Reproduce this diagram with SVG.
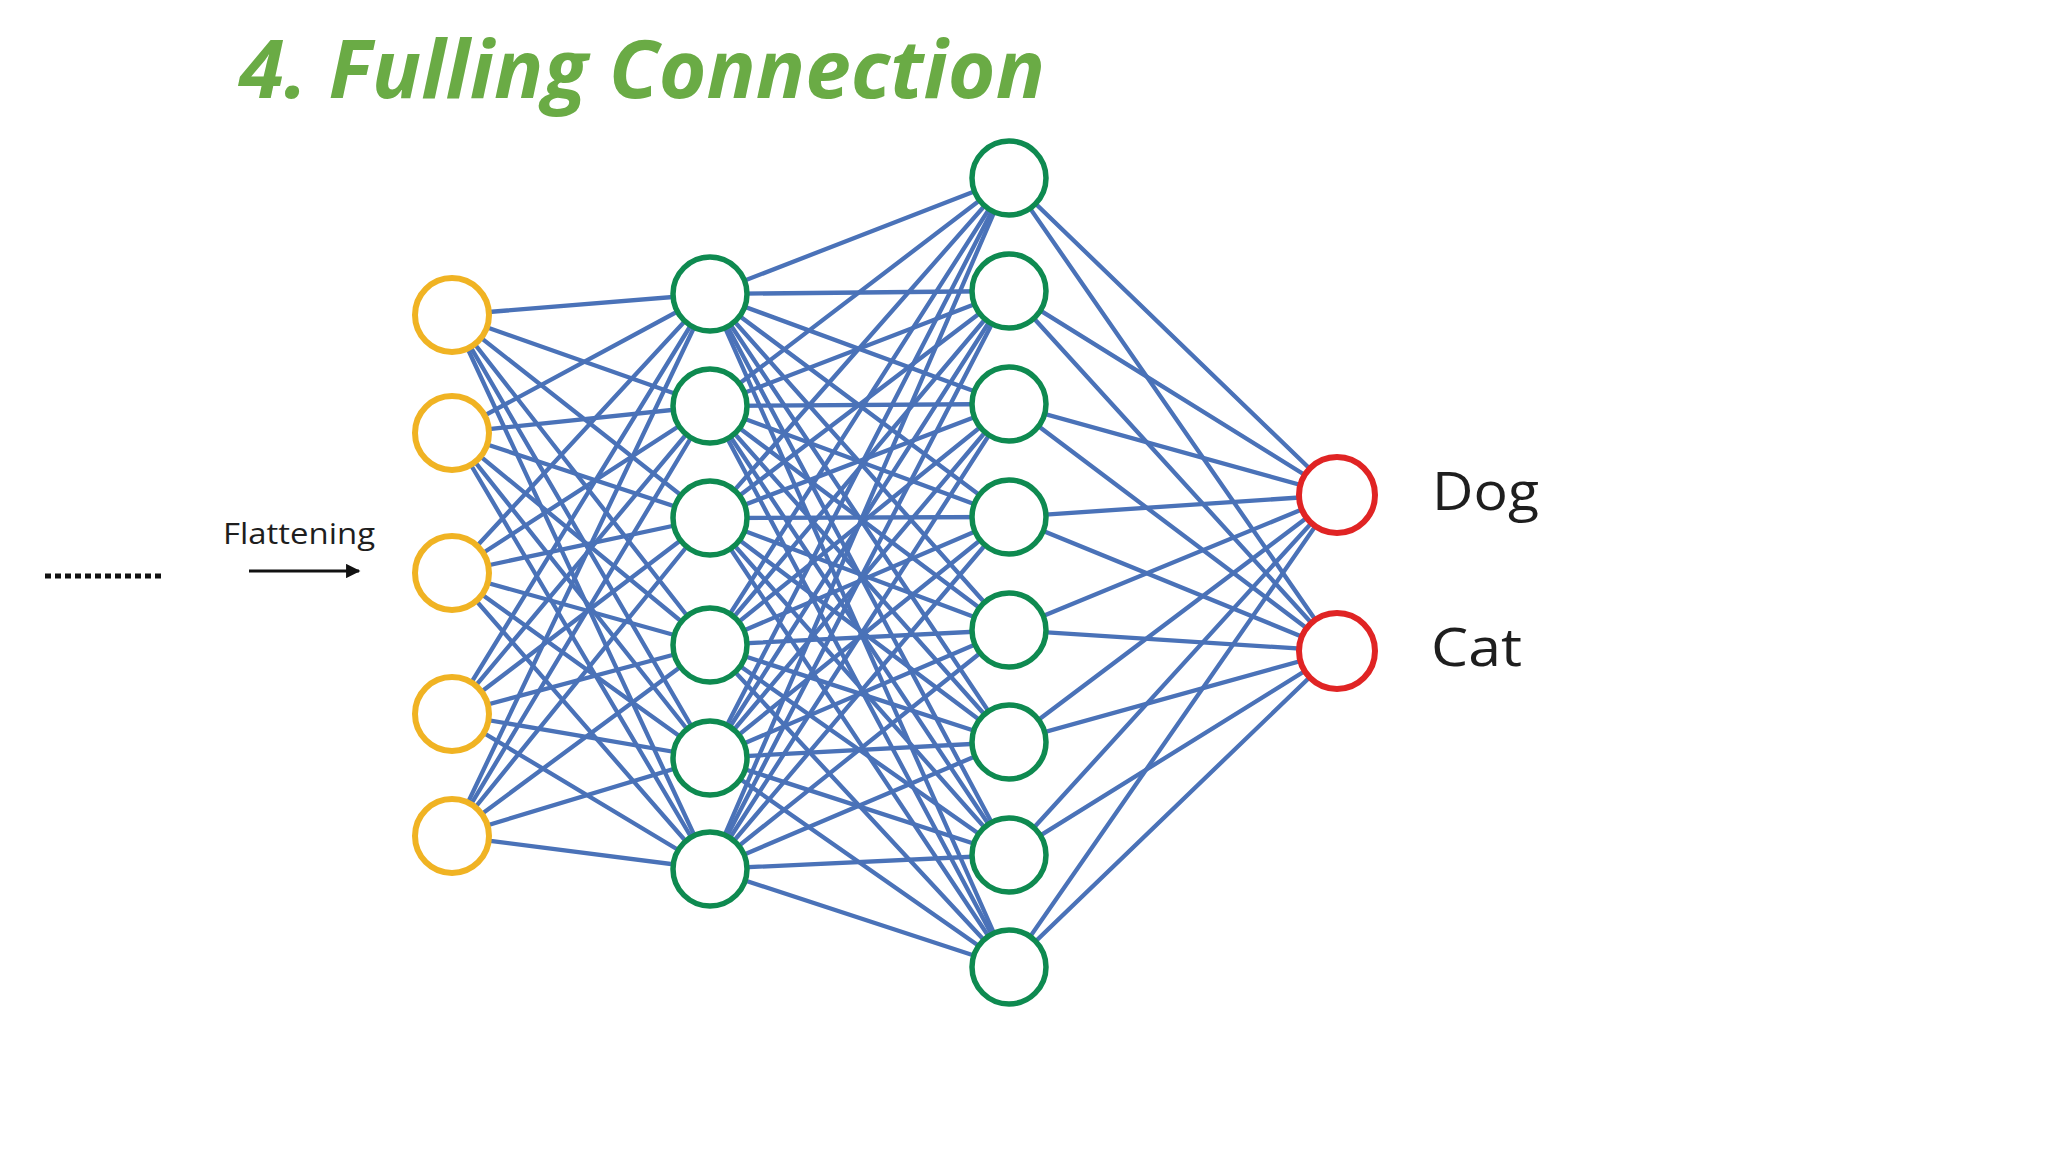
<svg xmlns="http://www.w3.org/2000/svg" width="2048" height="1152" viewBox="0 0 2048 1152">
<defs>
<style>
.title{font-family:"Open Sans","Liberation Sans",sans-serif;font-weight:bold;font-style:italic;font-size:80px;fill:#6AAB45}
.lbl{font-family:"Open Sans","Liberation Sans",sans-serif;fill:#1e1e1e}
.e{stroke:#4A72B8;stroke-width:4.3;stroke-linecap:round}
.in{fill:#fff;stroke:#F0B323;stroke-width:6}
.hid{fill:#fff;stroke:#0E8A50;stroke-width:5.5}
.out{fill:#fff;stroke:#E02424;stroke-width:6}
</style>
<marker id="ah" viewBox="0 0 10 10" refX="9" refY="5" markerWidth="5" markerHeight="4.5" orient="auto" markerUnits="strokeWidth">
<path d="M0,0 L10,5 L0,10 z" fill="#111"/>
</marker>
</defs>
<rect width="2048" height="1152" fill="#fff"/>
<text class="title" x="239" y="98" textLength="806" lengthAdjust="spacingAndGlyphs">4. Fulling Connection</text>

<g id="flatten">
<line x1="45" y1="576" x2="165" y2="576" stroke="#111" stroke-width="5" stroke-dasharray="6 4"/>
<text class="lbl" x="223" y="544" font-size="29" textLength="152" lengthAdjust="spacingAndGlyphs">Flattening</text>
<line x1="249" y1="571" x2="359" y2="571" stroke="#111" stroke-width="3.2" marker-end="url(#ah)"/>
</g>

<g id="connectors">
<line class="e" x1="452" y1="315" x2="710" y2="294"/><line class="e" x1="452" y1="315" x2="710" y2="406"/><line class="e" x1="452" y1="315" x2="710" y2="518"/><line class="e" x1="452" y1="315" x2="710" y2="645"/><line class="e" x1="452" y1="315" x2="710" y2="758"/><line class="e" x1="452" y1="315" x2="710" y2="869"/>
<line class="e" x1="452" y1="433" x2="710" y2="294"/><line class="e" x1="452" y1="433" x2="710" y2="406"/><line class="e" x1="452" y1="433" x2="710" y2="518"/><line class="e" x1="452" y1="433" x2="710" y2="645"/><line class="e" x1="452" y1="433" x2="710" y2="758"/><line class="e" x1="452" y1="433" x2="710" y2="869"/>
<line class="e" x1="452" y1="573" x2="710" y2="294"/><line class="e" x1="452" y1="573" x2="710" y2="406"/><line class="e" x1="452" y1="573" x2="710" y2="518"/><line class="e" x1="452" y1="573" x2="710" y2="645"/><line class="e" x1="452" y1="573" x2="710" y2="758"/><line class="e" x1="452" y1="573" x2="710" y2="869"/>
<line class="e" x1="452" y1="714" x2="710" y2="294"/><line class="e" x1="452" y1="714" x2="710" y2="406"/><line class="e" x1="452" y1="714" x2="710" y2="518"/><line class="e" x1="452" y1="714" x2="710" y2="645"/><line class="e" x1="452" y1="714" x2="710" y2="758"/><line class="e" x1="452" y1="714" x2="710" y2="869"/>
<line class="e" x1="452" y1="836" x2="710" y2="294"/><line class="e" x1="452" y1="836" x2="710" y2="406"/><line class="e" x1="452" y1="836" x2="710" y2="518"/><line class="e" x1="452" y1="836" x2="710" y2="645"/><line class="e" x1="452" y1="836" x2="710" y2="758"/><line class="e" x1="452" y1="836" x2="710" y2="869"/>

<line class="e" x1="710" y1="294" x2="1009" y2="178"/><line class="e" x1="710" y1="294" x2="1009" y2="291"/><line class="e" x1="710" y1="294" x2="1009" y2="404"/><line class="e" x1="710" y1="294" x2="1009" y2="517"/><line class="e" x1="710" y1="294" x2="1009" y2="630"/><line class="e" x1="710" y1="294" x2="1009" y2="742"/><line class="e" x1="710" y1="294" x2="1009" y2="855"/><line class="e" x1="710" y1="294" x2="1009" y2="967"/>
<line class="e" x1="710" y1="406" x2="1009" y2="178"/><line class="e" x1="710" y1="406" x2="1009" y2="291"/><line class="e" x1="710" y1="406" x2="1009" y2="404"/><line class="e" x1="710" y1="406" x2="1009" y2="517"/><line class="e" x1="710" y1="406" x2="1009" y2="630"/><line class="e" x1="710" y1="406" x2="1009" y2="742"/><line class="e" x1="710" y1="406" x2="1009" y2="855"/><line class="e" x1="710" y1="406" x2="1009" y2="967"/>
<line class="e" x1="710" y1="518" x2="1009" y2="178"/><line class="e" x1="710" y1="518" x2="1009" y2="291"/><line class="e" x1="710" y1="518" x2="1009" y2="404"/><line class="e" x1="710" y1="518" x2="1009" y2="517"/><line class="e" x1="710" y1="518" x2="1009" y2="630"/><line class="e" x1="710" y1="518" x2="1009" y2="742"/><line class="e" x1="710" y1="518" x2="1009" y2="855"/><line class="e" x1="710" y1="518" x2="1009" y2="967"/>
<line class="e" x1="710" y1="645" x2="1009" y2="178"/><line class="e" x1="710" y1="645" x2="1009" y2="291"/><line class="e" x1="710" y1="645" x2="1009" y2="404"/><line class="e" x1="710" y1="645" x2="1009" y2="517"/><line class="e" x1="710" y1="645" x2="1009" y2="630"/><line class="e" x1="710" y1="645" x2="1009" y2="742"/><line class="e" x1="710" y1="645" x2="1009" y2="855"/><line class="e" x1="710" y1="645" x2="1009" y2="967"/>
<line class="e" x1="710" y1="758" x2="1009" y2="178"/><line class="e" x1="710" y1="758" x2="1009" y2="291"/><line class="e" x1="710" y1="758" x2="1009" y2="404"/><line class="e" x1="710" y1="758" x2="1009" y2="517"/><line class="e" x1="710" y1="758" x2="1009" y2="630"/><line class="e" x1="710" y1="758" x2="1009" y2="742"/><line class="e" x1="710" y1="758" x2="1009" y2="855"/><line class="e" x1="710" y1="758" x2="1009" y2="967"/>
<line class="e" x1="710" y1="869" x2="1009" y2="178"/><line class="e" x1="710" y1="869" x2="1009" y2="291"/><line class="e" x1="710" y1="869" x2="1009" y2="404"/><line class="e" x1="710" y1="869" x2="1009" y2="517"/><line class="e" x1="710" y1="869" x2="1009" y2="630"/><line class="e" x1="710" y1="869" x2="1009" y2="742"/><line class="e" x1="710" y1="869" x2="1009" y2="855"/><line class="e" x1="710" y1="869" x2="1009" y2="967"/>

<line class="e" x1="1009" y1="178" x2="1337" y2="495"/><line class="e" x1="1009" y1="178" x2="1337" y2="651"/>
<line class="e" x1="1009" y1="291" x2="1337" y2="495"/><line class="e" x1="1009" y1="291" x2="1337" y2="651"/>
<line class="e" x1="1009" y1="404" x2="1337" y2="495"/><line class="e" x1="1009" y1="404" x2="1337" y2="651"/>
<line class="e" x1="1009" y1="517" x2="1337" y2="495"/><line class="e" x1="1009" y1="517" x2="1337" y2="651"/>
<line class="e" x1="1009" y1="630" x2="1337" y2="495"/><line class="e" x1="1009" y1="630" x2="1337" y2="651"/>
<line class="e" x1="1009" y1="742" x2="1337" y2="495"/><line class="e" x1="1009" y1="742" x2="1337" y2="651"/>
<line class="e" x1="1009" y1="855" x2="1337" y2="495"/><line class="e" x1="1009" y1="855" x2="1337" y2="651"/>
<line class="e" x1="1009" y1="967" x2="1337" y2="495"/><line class="e" x1="1009" y1="967" x2="1337" y2="651"/>
</g>

<g id="in1"><circle class="in" cx="452" cy="315" r="37"/></g>
<g id="in2"><circle class="in" cx="452" cy="433" r="37"/></g>
<g id="in3"><circle class="in" cx="452" cy="573" r="37"/></g>
<g id="in4"><circle class="in" cx="452" cy="714" r="37"/></g>
<g id="in5"><circle class="in" cx="452" cy="836" r="37"/></g>

<g id="h1a"><circle class="hid" cx="710" cy="294" r="37"/></g>
<g id="h1b"><circle class="hid" cx="710" cy="406" r="37"/></g>
<g id="h1c"><circle class="hid" cx="710" cy="518" r="37"/></g>
<g id="h1d"><circle class="hid" cx="710" cy="645" r="37"/></g>
<g id="h1e"><circle class="hid" cx="710" cy="758" r="37"/></g>
<g id="h1f"><circle class="hid" cx="710" cy="869" r="37"/></g>

<g id="h2a"><circle class="hid" cx="1009" cy="178" r="37"/></g>
<g id="h2b"><circle class="hid" cx="1009" cy="291" r="37"/></g>
<g id="h2c"><circle class="hid" cx="1009" cy="404" r="37"/></g>
<g id="h2d"><circle class="hid" cx="1009" cy="517" r="37"/></g>
<g id="h2e"><circle class="hid" cx="1009" cy="630" r="37"/></g>
<g id="h2f"><circle class="hid" cx="1009" cy="742" r="37"/></g>
<g id="h2g"><circle class="hid" cx="1009" cy="855" r="37"/></g>
<g id="h2h"><circle class="hid" cx="1009" cy="967" r="37"/></g>

<g id="dog"><circle class="out" cx="1337" cy="495" r="38"/><text class="lbl" x="1432" y="510" font-size="53" textLength="107" lengthAdjust="spacingAndGlyphs">Dog</text></g>
<g id="cat"><circle class="out" cx="1337" cy="651" r="38"/><text class="lbl" x="1431" y="666" font-size="53" textLength="91" lengthAdjust="spacingAndGlyphs">Cat</text></g>
</svg>
